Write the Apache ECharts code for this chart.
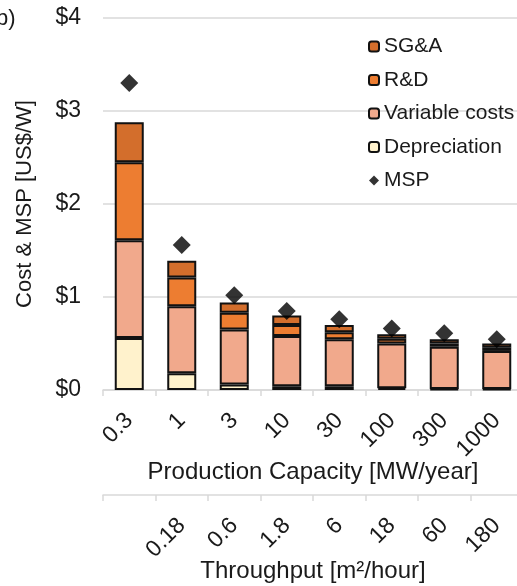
<!DOCTYPE html>
<html>
<head>
<meta charset="utf-8">
<script src="https://cdn.jsdelivr.net/npm/echarts@6/dist/echarts.min.js"></script>
<style>
  html, body { margin: 0; padding: 0; background: #fff; }
  #chart { width: 517px; height: 586px; }
</style>
</head>
<body>
<div id="chart"></div>
<script>
// production capacity [MW/year] and matching throughput [m2/hour]
var capacities = ['0.3', '1', '3', '10', '30', '100', '300', '1000']
var throughputs = ['', '0.18', '0.6', '1.8', '6', '18', '60', '180']

// cost components, US$/W
var depreciation = [0.56, 0.18, 0.06, 0.04, 0.04, 0.02, 0.01, 0.01]
var variableCosts = [1.05, 0.72, 0.59, 0.54, 0.505, 0.48, 0.455, 0.41]
var rnd = [0.84, 0.31, 0.18, 0.12, 0.075, 0.05, 0.035, 0.035]
var sga = [0.43, 0.18, 0.11, 0.10, 0.08, 0.05, 0.045, 0.045]
var msp = [3.30, 1.56, 1.02, 0.85, 0.76, 0.66, 0.61, 0.545]

var yTicks = [0, 1, 2, 3, 4]

var font = 'Liberation Sans, Arial, sans-serif'
var textColor = '#1a1a1a'
var gridGrey = '#d9d9d9'

function barSeries(name, data, color) {
  return {
    name: name,
    type: 'bar',
    stack: 'cost',
    data: data,
    barWidth: 29,
    itemStyle: { color: color, borderColor: '#111', borderWidth: 2 }
  }
}

function bottomAxis(labels, offset, name, nameGap) {
  return {
    type: 'category',
    data: labels,
    position: 'bottom',
    offset: offset,
    axisLine: { show: true, lineStyle: { color: gridGrey, width: 1.5 } },
    axisTick: { show: true, interval: 0, length: 6, lineStyle: { color: gridGrey, width: 1.5 } },
    axisLabel: { interval: 0, rotate: 45, margin: 27, fontSize: 23, color: textColor, fontFamily: font },
    name: name,
    nameLocation: 'middle',
    nameGap: nameGap,
    nameMoveOverlap: false,
    nameTextStyle: { fontSize: 24, color: textColor, fontFamily: font }
  }
}

var chart = echarts.init(document.getElementById('chart'), null, { renderer: 'canvas' })
chart.setOption({
  animation: false,
  textStyle: { fontFamily: font, color: textColor },
  grid: { left: 103, top: 18, width: 420, height: 372, outerBoundsMode: 'none' },
  graphic: [{
    type: 'text',
    left: -4,
    top: 8,
    style: { text: 'b)', font: '22px ' + font, fill: textColor }
  }],
  legend: {
    orient: 'vertical',
    left: 363,
    top: 31,
    itemWidth: 10,
    itemHeight: 10,
    itemGap: 12.5,
    data: [
      { name: 'SG&A' },
      { name: 'R&D' },
      { name: 'Variable costs' },
      { name: 'Depreciation' },
      { name: 'MSP', icon: 'diamond' }
    ],
    textStyle: { fontFamily: font, fontSize: 21, color: textColor }
  },
  xAxis: [
    bottomAxis(capacities, 0, 'Production Capacity [MW/year]', 70),
    bottomAxis(throughputs, 105, 'Throughput [m²/hour]', 64)
  ],
  yAxis: {
    type: 'value',
    min: yTicks[0],
    max: yTicks[yTicks.length - 1],
    interval: 1,
    axisLine: { show: false },
    axisTick: { show: false },
    splitLine: { lineStyle: { color: gridGrey, width: 1.5 } },
    axisLabel: {
      margin: 22,
      fontSize: 23,
      color: textColor,
      fontFamily: font,
      formatter: function (v) { return '$' + v }
    },
    name: 'Cost & MSP [US$/W]',
    nameLocation: 'middle',
    nameGap: 67,
    nameMoveOverlap: false,
    nameTextStyle: { fontSize: 22, color: textColor, fontFamily: font }
  },
  series: [
    barSeries('Depreciation', depreciation, '#fff2cc'),
    barSeries('Variable costs', variableCosts, '#f1a98c'),
    barSeries('R&D', rnd, '#ed7d31'),
    barSeries('SG&A', sga, '#d36e2c'),
    {
      name: 'MSP',
      type: 'scatter',
      data: msp,
      symbol: 'diamond',
      symbolSize: 18,
      z: 5,
      itemStyle: { color: '#000' }
    }
  ]
})
</script>
</body>
</html>
